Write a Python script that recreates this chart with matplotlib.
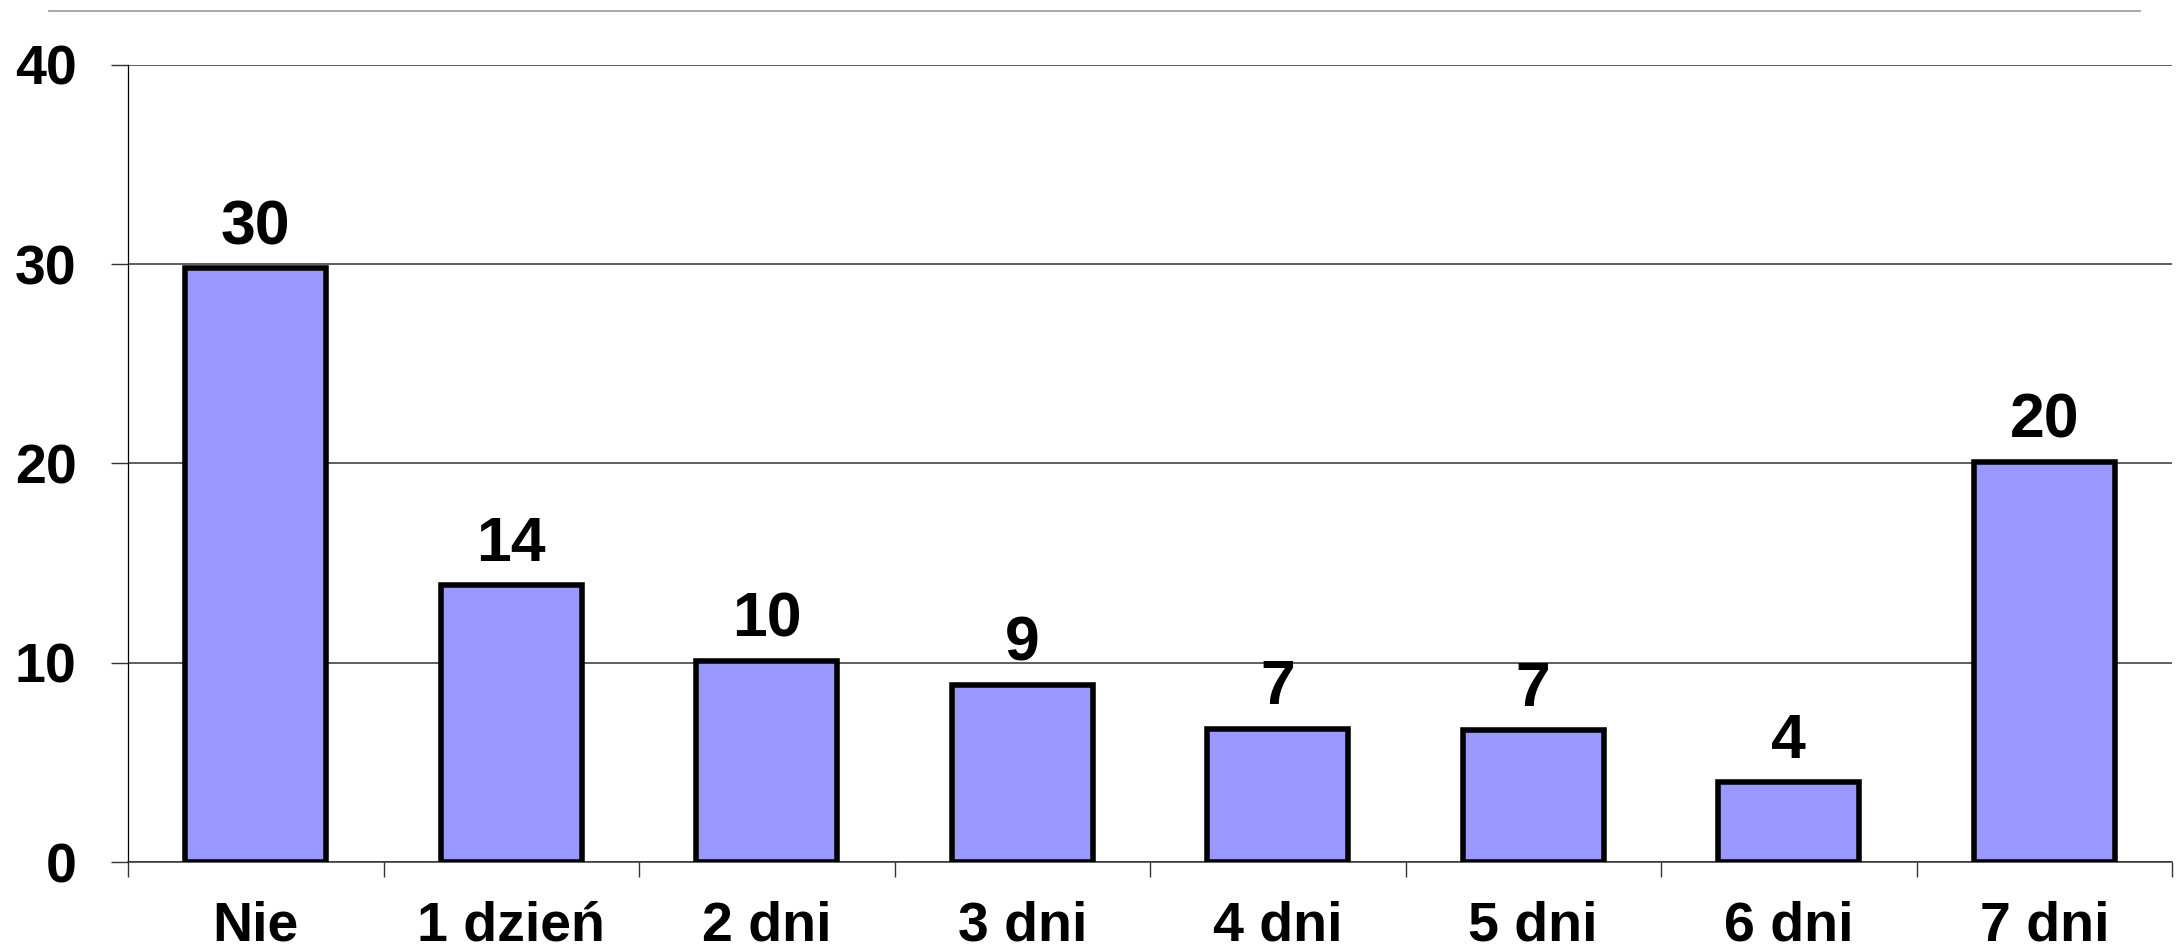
import matplotlib
matplotlib.use("Agg")
import matplotlib.pyplot as plt
from matplotlib.lines import Line2D
import numpy as np

categories = ["Nie", "1 dzień", "2 dni", "3 dni", "4 dni", "5 dni", "6 dni", "7 dni"]
values = [29.8, 13.9, 10.1, 8.9, 6.7, 6.6, 4.0, 20.1]
yticks = [0, 10, 20, 30, 40]

plt.rcParams['font.family'] = ['Liberation Sans', 'DejaVu Sans']
plt.rcParams['font.weight'] = 'bold'

fig = plt.figure(figsize=(21.83, 9.46), dpi=100)
ax = fig.add_axes([128/2183, 1-862/946, (2172-128)/2183, (862-65)/946])

x = np.arange(len(categories))
bars = ax.bar(x, values, width=0.552, color='#9999FF', edgecolor='black',
              linewidth=4.0, zorder=3)

for xi, v in zip(x, values):
    ax.annotate(f"{v:.0f}", (xi, v), xytext=(0, 8), textcoords='offset points',
                ha='center', va='bottom', fontsize=45, fontweight='bold', zorder=4)

ax.set_xlim(-0.5, len(categories) - 0.5)
ax.set_ylim(0, 40)
ax.set_yticks(yticks)
ax.set_yticklabels([str(t) for t in yticks])
ax.set_xticks(x)
ax.set_xticklabels(categories)
ax.set_xticks(np.arange(len(categories) + 1) - 0.5, minor=True)

ax.tick_params(axis='x', which='major', length=0, pad=28, labelsize=40)
ax.tick_params(axis='x', which='minor', length=11, width=1.0, color='#333333', direction='out')
ax.tick_params(axis='y', which='major', length=12, width=1.0, color='#333333',
               direction='out', pad=25, labelsize=40)
for lbl in ax.get_xticklabels() + ax.get_yticklabels():
    lbl.set_fontweight('bold')

ax.yaxis.grid(True, color='#333333', linewidth=1.1, zorder=0)
ax.set_axisbelow(True)
for s in ['top', 'right']:
    ax.spines[s].set_visible(False)
ax.spines['left'].set_color('black')
ax.spines['left'].set_linewidth(0.9)
ax.spines['bottom'].set_color('#333333')
ax.spines['bottom'].set_linewidth(1.1)

fig.add_artist(Line2D([49/2183, 2140/2183], [1-11/946, 1-11/946],
                      transform=fig.transFigure, color='#A0A0A0', linewidth=1.3))

fig.savefig("out.png", dpi=100)
